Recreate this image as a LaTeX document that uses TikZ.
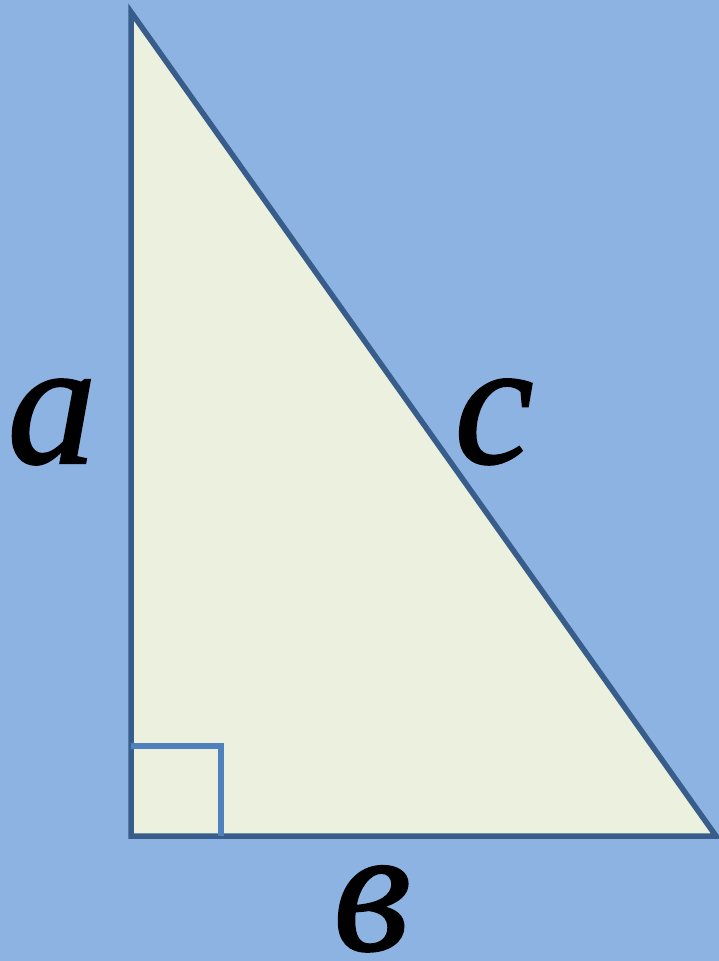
\documentclass[tikz,border=0pt]{standalone}
\usepackage{fontspec}
\setmainfont{Liberation Serif}
\newfontfamily\lblfont[FakeBold=1.2]{Liberation Serif}
\usetikzlibrary{positioning}
\definecolor{bgBlue}{RGB}{141,179,226}
\definecolor{triFill}{RGB}{235,241,222}
\definecolor{triEdge}{RGB}{56,93,138}
\definecolor{sqEdge}{RGB}{79,129,189}
\begin{document}
\begin{tikzpicture}[
			x=1pt,y=-1pt,
			edge/.style={
				draw=triEdge,
				line width=5.5pt,
				line join=miter
			},
			mark90/.style={
				draw=sqEdge,
				line width=5.5pt
			},
			lbl/.style={
				font=\fontsize{178}{178}\lblfont\itshape,
				anchor=base,
				inner sep=0pt
			}
			]
			\fill[bgBlue](0,0) rectangle (719,961);
			\useasboundingbox (0,0) rectangle (719,961);
			% vertices
			\coordinate (top) at (131,12);
			\coordinate (rgt) at (131,836);
			\coordinate (end) at (716,836);
			\filldraw[edge,fill=triFill](top)--(rgt)--(end)--cycle;
			% right angle mark
			\coordinate (sqA) at (131,746);
			\coordinate (sqB) at (221,746);
			\coordinate (sqC) at (221,836);
			\draw[mark90](sqA)--(sqB)--(sqC);
			% side labels
			\node[lbl](la) at (52,463){a};
			\node[lbl](lc) at (494,463){c};
			\node[lbl](lb) at (372,950){в};
		\end{tikzpicture}
\end{document}
